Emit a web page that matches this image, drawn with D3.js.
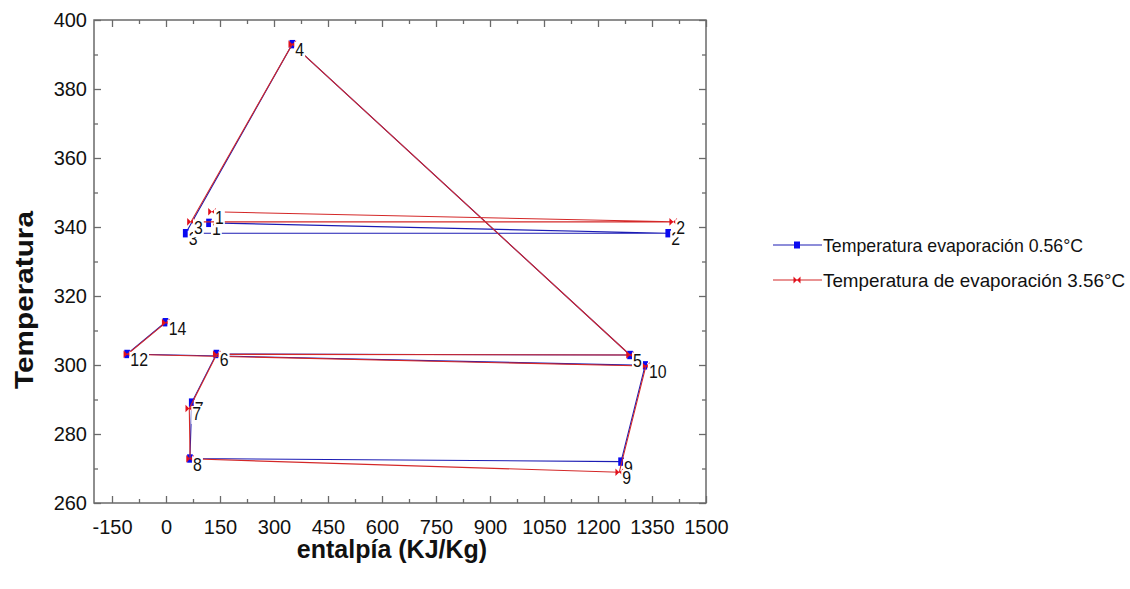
<!DOCTYPE html>
<html>
<head>
<meta charset="utf-8">
<script src="https://cdn.jsdelivr.net/npm/d3@7"></script>
<style>
  html, body { margin: 0; padding: 0; background: #fff; }
  svg { display: block; }
  text { font-family: "Liberation Sans", Arial, sans-serif; fill: #111; }
</style>
</head>
<body>
<svg id="chart" width="1130" height="589"></svg>
<script>
// ---- data ----
const labelsBlue = ["1","2","3","4","5","6","7","8","9","10","12","14"];
const hBlue = [119.4, 1395, 54.7, 350.8, 1289, 140, 71.4, 66.5, 1264, 1331, -108, -1.5];
const tBlue = [341.2, 338.2, 338.2, 393.0, 302.9, 303.2, 289.1, 272.9, 272.0, 299.9, 303.2, 312.4];

const labelsRed = ["1","2","3","4","5","6","7","8","9","10","12","14"];
const hRed = [127.8, 1409, 69.4, 350.8, 1289, 141, 64.7, 66.9, 1259, 1333, -107.3, -0.8];
const tRed = [344.4, 341.5, 341.5, 393.0, 302.9, 303.1, 287.4, 272.8, 268.9, 299.7, 303.1, 312.3];

const seriesNames = ["Temperatura evaporación 0.56°C", "Temperatura de evaporación 3.56°C"];

const xMajorTicks = [-150, 0, 150, 300, 450, 600, 750, 900, 1050, 1200, 1350, 1500];
const yMajorTicks = [260, 280, 300, 320, 340, 360, 380, 400];
const xDomain = [-200, 1500];
const yDomain = [260, 400];

// ---- layout ----
const svg = d3.select("#chart");
const L = 94, R = 706, T = 20, B = 503;
const x = d3.scaleLinear().domain(xDomain).range([L, R]);
const y = d3.scaleLinear().domain(yDomain).range([B, T]);

const frameColor = "#6a6a6a";
const xMinor = d3.range(-150, 1501, 75).filter(v => !xMajorTicks.includes(v));
const yMinor = d3.range(260, 401, 10).filter(v => !yMajorTicks.includes(v));
const fmt = d => String(d);

function styleAxis(g) {
  g.select(".domain").remove();
  g.selectAll(".tick line").attr("stroke", frameColor).attr("stroke-width", 1.3);
}
function styleText(g) {
  g.selectAll("text").attr("font-size", 20).attr("font-family", "Liberation Sans, Arial, sans-serif").attr("fill", "#111");
}
// bottom
svg.append("g").attr("transform", `translate(0,${B})`)
  .call(d3.axisBottom(x).tickValues(xMajorTicks).tickSizeInner(-7).tickSizeOuter(0).tickPadding(17).tickFormat(fmt))
  .call(styleAxis).call(styleText);
svg.append("g").attr("transform", `translate(0,${B})`)
  .call(d3.axisBottom(x).tickValues(xMinor).tickSizeInner(-4).tickSizeOuter(0).tickFormat(""))
  .call(styleAxis);
// top
svg.append("g").attr("transform", `translate(0,${T})`)
  .call(d3.axisTop(x).tickValues(xMajorTicks).tickSizeInner(-7).tickSizeOuter(0).tickFormat(""))
  .call(styleAxis);
svg.append("g").attr("transform", `translate(0,${T})`)
  .call(d3.axisTop(x).tickValues(xMinor).tickSizeInner(-4).tickSizeOuter(0).tickFormat(""))
  .call(styleAxis);
// left
svg.append("g").attr("transform", `translate(${L},0)`)
  .call(d3.axisLeft(y).tickValues(yMajorTicks).tickSizeInner(-7).tickSizeOuter(0).tickPadding(7).tickFormat(fmt))
  .call(styleAxis).call(styleText);
svg.append("g").attr("transform", `translate(${L},0)`)
  .call(d3.axisLeft(y).tickValues(yMinor).tickSizeInner(-4).tickSizeOuter(0).tickFormat(""))
  .call(styleAxis);
// right
svg.append("g").attr("transform", `translate(${R},0)`)
  .call(d3.axisRight(y).tickValues(yMajorTicks).tickSizeInner(-7).tickSizeOuter(0).tickFormat(""))
  .call(styleAxis);
svg.append("g").attr("transform", `translate(${R},0)`)
  .call(d3.axisRight(y).tickValues(yMinor).tickSizeInner(-4).tickSizeOuter(0).tickFormat(""))
  .call(styleAxis);

// frame
svg.append("rect").attr("x", L).attr("y", T).attr("width", R - L).attr("height", B - T)
  .attr("fill", "none").attr("stroke", frameColor).attr("stroke-width", 1.5);

// axis titles
svg.append("text").attr("x", 392).attr("y", 558).attr("text-anchor", "middle")
  .attr("font-size", 25).attr("font-weight", "bold").text("entalpía (KJ/Kg)");
svg.append("text").attr("transform", "translate(33,300) rotate(-90)").attr("text-anchor", "middle")
  .attr("font-size", 25).attr("font-weight", "bold")
  .attr("textLength", 178).attr("lengthAdjust", "spacingAndGlyphs").text("Temperatura");

// ---- series ----
const blueLine = "#1c1cb4", blueMark = "#0a0af0";
const redLine = "#d42828", redMark = "#e2101c";

const bowtie = s => `M${-s},${-s}L0,0L${-s},${s}ZM${s},${-s}L0,0L${s},${s}Z`;

function drawSeries(hs, ts, labels, lineColor, markColor, shape) {
  const g = svg.append("g");
  const pts = hs.map((h, i) => [x(h), y(ts[i])]);
  g.append("path").attr("d", d3.line()(pts)).attr("fill", "none")
    .attr("stroke", lineColor).attr("stroke-width", 1.1);
  const mg = g.append("g");
  pts.forEach(p => {
    if (shape === "square") {
      mg.append("rect").attr("x", p[0] - 2.8).attr("y", p[1] - 4.2).attr("width", 5.6).attr("height", 8.4).attr("fill", markColor);
    } else {
      mg.append("path").attr("d", bowtie(3.8)).attr("transform", `translate(${p[0]},${p[1]})`).attr("fill", markColor);
    }
  });
  pts.forEach((p, i) => {
    const lg = g.append("g");
    const r = lg.append("rect").attr("fill", "#fff");
    const t = lg.append("text").attr("x", p[0] + 3).attr("y", p[1] + 12)
      .attr("font-size", 18).text(labels[i]);
    const w = t.node().getComputedTextLength();
    t.attr("textLength", w * 0.88).attr("lengthAdjust", "spacingAndGlyphs");
    const bb = t.node().getBBox();
    r.attr("x", p[0] + 2).attr("y", bb.y + 1.5).attr("width", w * 0.88 + 2).attr("height", bb.height - 2);
  });
}
drawSeries(hBlue, tBlue, labelsBlue, blueLine, blueMark, "square");
drawSeries(hRed, tRed, labelsRed, redLine, redMark, "bowtie");

// ---- legend ----
const leg = svg.append("g");
const legRows = [
  { name: seriesNames[0], line: blueLine, mark: blueMark, shape: "square", y: 245, w: 260 },
  { name: seriesNames[1], line: redLine, mark: redMark, shape: "bowtie", y: 280, w: 302 }
];
legRows.forEach(r => {
  leg.append("line").attr("x1", 773).attr("x2", 822).attr("y1", r.y).attr("y2", r.y)
    .attr("stroke", r.line).attr("stroke-width", 1.1);
  if (r.shape === "square") {
    leg.append("rect").attr("x", 797 - 3).attr("y", r.y - 3.5).attr("width", 6).attr("height", 7).attr("fill", r.mark);
  } else {
    leg.append("path").attr("d", bowtie(3.5)).attr("transform", `translate(797,${r.y})`).attr("fill", r.mark);
  }
  leg.append("text").attr("x", 823).attr("y", r.y + 7).attr("font-size", 18.6)
    .attr("textLength", r.w).attr("lengthAdjust", "spacingAndGlyphs").text(r.name);
});
</script>
</body>
</html>
